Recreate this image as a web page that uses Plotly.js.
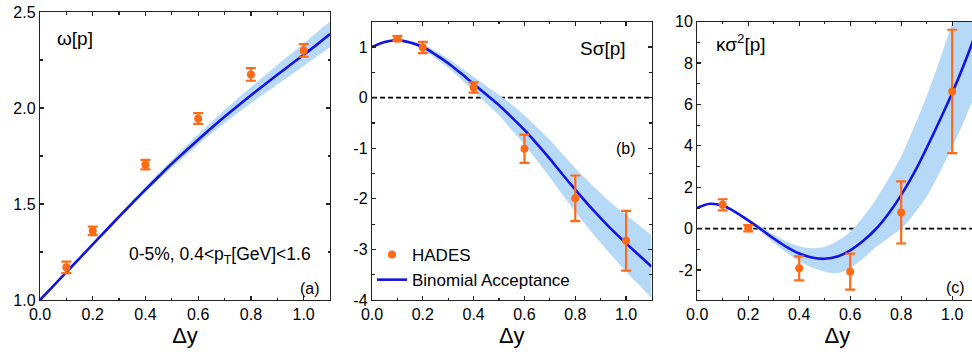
<!DOCTYPE html>
<html>
<head>
<meta charset="utf-8">
<script src="https://cdn.plot.ly/plotly-3.0.1.min.js"></script>
<style>
html, body { margin: 0; padding: 0; overflow: hidden; background: #fff; }
#chart { width: 980px; height: 352px; }
</style>
</head>
<body>
<div id="chart"></div>
<script>
// ---------- data ----------
const dyPoints = [0.1, 0.2, 0.4, 0.6, 0.8, 1.0];

const omegaVal = [1.17, 1.36, 1.705, 1.945, 2.175, 2.30];
const omegaErr = [0.03, 0.022, 0.025, 0.028, 0.033, 0.033];

const skewVal = [1.165, 0.99, 0.20, -1.01, -1.99, -2.83];
const skewErr = [0.05, 0.11, 0.10, 0.28, 0.45, 0.59];

const kurtVal = [1.15, 0.02, -1.92, -2.08, 0.78, 6.63];
const kurtErr = [0.27, 0.15, 0.58, 0.87, 1.5, 2.98];

const dyCurve = [0, 0.05, 0.1, 0.15, 0.2, 0.25, 0.3, 0.35, 0.4, 0.45, 0.5, 0.55,
                 0.6, 0.65, 0.7, 0.75, 0.8, 0.85, 0.9, 0.95, 1.0, 1.05, 1.1];

const omegaCurve = [1.0, 1.072, 1.145, 1.217, 1.29, 1.362, 1.434, 1.505, 1.575, 1.643, 1.71, 1.773,
                    1.835, 1.896, 1.955, 2.011, 2.066, 2.12, 2.173, 2.225, 2.277, 2.33, 2.385];
const omegaLow  = [1.0, 1.072, 1.143, 1.214, 1.285, 1.355, 1.425, 1.493, 1.561, 1.626, 1.690, 1.750,
                   1.810, 1.867, 1.922, 1.974, 2.025, 2.074, 2.123, 2.171, 2.219, 2.268, 2.317];
const omegaHigh = [1.0, 1.072, 1.147, 1.221, 1.296, 1.370, 1.444, 1.518, 1.590, 1.661, 1.731, 1.798,
                   1.862, 1.927, 1.990, 2.050, 2.108, 2.167, 2.224, 2.280, 2.335, 2.393, 2.450];

const skewCurve = [1.0, 1.1, 1.13, 1.09, 1.0, 0.85, 0.68, 0.48, 0.27, 0.06, -0.15, -0.39,
                   -0.64, -0.92, -1.21, -1.52, -1.82, -2.11, -2.38, -2.64, -2.88, -3.11, -3.34];
const skewHigh  = [1.0, 1.11, 1.15, 1.12, 1.05, 0.92, 0.77, 0.59, 0.41, 0.23, 0.05, -0.14,
                   -0.35, -0.59, -0.84, -1.12, -1.39, -1.65, -1.89, -2.12, -2.32, -2.52, -2.72];
const skewLow   = [1.0, 1.09, 1.11, 1.06, 0.95, 0.78, 0.59, 0.37, 0.13, -0.11, -0.35, -0.64,
                   -0.93, -1.25, -1.58, -1.92, -2.25, -2.57, -2.87, -3.16, -3.44, -3.70, -3.96];

const kurtCurve = [1.0, 1.2, 1.1, 0.8, 0.4, -0.03, -0.48, -0.88, -1.2, -1.4, -1.46, -1.35,
                   -1.05, -0.6, -0.03, 0.72, 1.62, 2.68, 3.9, 5.2, 6.55, 8.05, 9.7];
const kurtHigh  = [1.0, 1.22, 1.14, 0.86, 0.48, 0.1, -0.3, -0.62, -0.85, -0.95, -0.88, -0.6,
                   -0.15, 0.55, 1.4, 2.4, 3.5, 4.9, 6.4, 8.1, 9.95, 11.9, 14.0];
const kurtLow   = [1.0, 1.18, 1.06, 0.74, 0.32, -0.16, -0.68, -1.15, -1.58, -1.88, -2.08, -2.15,
                   -1.9, -1.45, -0.9, -0.45, 0.0, 0.7, 1.55, 2.7, 3.95, 5.3, 6.8];

const xTickVals = [0, 0.2, 0.4, 0.6, 0.8, 1.0];
const xTickText = ['0.0', '0.2', '0.4', '0.6', '0.8', '1.0'];
const xMinorVals = [0.1, 0.3, 0.5, 0.7, 0.9, 1.1];

const yaTickVals = [1.0, 1.5, 2.0, 2.5];
const yaTickText = ['1.0', '1.5', '2.0', '2.5'];
const yaMinorVals = [1.25, 1.75, 2.25];

const ybTickVals = [-4, -3, -2, -1, 0, 1];
const ybTickText = ['-4', '-3', '-2', '-1', '0', '1'];
const ybMinorVals = [-3.5, -2.5, -1.5, -0.5, 0.5, 1.5];

const ycTickVals = [-2, 0, 2, 4, 6, 8, 10];
const ycTickText = ['-2', '0', '2', '4', '6', '8', '10'];
const ycMinorVals = [-3, -1, 1, 3, 5, 7, 9];

const panelLabels = ['ω[p]', 'Sσ[p]', 'κσ<sup>2</sup>[p]'];
const cutLabel = '0-5%, 0.4&lt;p<sub>T</sub>[GeV]&lt;1.6';
const letterLabels = ['(a)', '(b)', '(c)'];

// ---------- styles ----------
const FONT = 'Arial, "Liberation Sans", Helvetica, sans-serif';
const ORANGE = '#FF6A17';
const BLUE = '#1212E2';
const BAND = '#B6D9F7';

function bandTraces(low, high, xa, ya) {
  return [
    { x: dyCurve, y: low, xaxis: xa, yaxis: ya, mode: 'lines', line: { width: 0, shape: 'spline' },
      hoverinfo: 'skip', showlegend: false },
    { x: dyCurve, y: high, xaxis: xa, yaxis: ya, mode: 'lines', line: { width: 0, shape: 'spline' },
      fill: 'tonexty', fillcolor: BAND, hoverinfo: 'skip', showlegend: false }
  ];
}
function lineTrace(y, xa, ya, legend) {
  return { x: dyCurve, y: y, xaxis: xa, yaxis: ya, mode: 'lines', name: 'Binomial Acceptance',
           line: { color: BLUE, width: 2.6, shape: 'spline' }, showlegend: legend };
}
function pointTrace(y, err, xa, ya, legend) {
  return { x: dyPoints, y: y, xaxis: xa, yaxis: ya, mode: 'markers', name: 'HADES',
           marker: { color: ORANGE, size: 8 },
           error_y: { type: 'data', array: err, visible: true, color: ORANGE, thickness: 2.2, width: 5 },
           showlegend: legend };
}

const traces = [].concat(
  bandTraces(omegaLow, omegaHigh, 'x', 'y'),
  bandTraces(skewLow, skewHigh, 'x2', 'y2'),
  bandTraces(kurtLow, kurtHigh, 'x3', 'y3'),
  [lineTrace(omegaCurve, 'x', 'y', false),
   lineTrace(skewCurve, 'x2', 'y2', true),
   lineTrace(kurtCurve, 'x3', 'y3', false),
   pointTrace(omegaVal, omegaErr, 'x', 'y', false),
   pointTrace(skewVal, skewErr, 'x2', 'y2', true),
   pointTrace(kurtVal, kurtErr, 'x3', 'y3', false)]
);

const W = 980, H = 352, MT = 12, MB = 52;
const px = v => v / W;
const py = v => (H - MB - v) / (H - MT - MB);

function axisBase() {
  return {
    showgrid: false, zeroline: false, showline: true, linecolor: '#222', linewidth: 1.2,
    mirror: 'ticks', ticks: 'inside', ticklen: 4, tickwidth: 1.2, tickcolor: '#222',
    tickfont: { family: FONT, size: 16, color: '#000' }, tickmode: 'array', fixedrange: true
  };
}
function xAxis(domain, anchor) {
  return Object.assign(axisBase(), {
    domain: domain, anchor: anchor, range: [0, 1.1], tickvals: xTickVals, ticktext: xTickText,
    minor: { tickmode: 'array', tickvals: xMinorVals, ticks: 'inside', ticklen: 2.5, tickwidth: 1.2, tickcolor: '#222' },
    title: { text: 'Δy', font: { family: FONT, size: 22, color: '#000' }, standoff: 4 }
  });
}
function yAxis(domain, anchor, range, tv, tt, mv) {
  return Object.assign(axisBase(), {
    domain: domain, anchor: anchor, range: range, tickvals: tv, ticktext: tt,
    minor: { tickmode: 'array', tickvals: mv, ticks: 'inside', ticklen: 2.5, tickwidth: 1.2, tickcolor: '#222' }
  });
}

const topBC = py(21.7);

const annFont = s => ({ family: FONT, size: s, color: '#000' });
const layout = {
  width: W, height: H,
  margin: { l: 0, r: 0, t: MT, b: MB },
  paper_bgcolor: '#fff', plot_bgcolor: '#fff',
  font: { family: FONT },
  xaxis: xAxis([px(40), px(330)], 'y'),
  yaxis: yAxis([0, 1], 'x', [1, 2.5], yaTickVals, yaTickText, yaMinorVals),
  xaxis2: xAxis([px(372), px(651.5)], 'y2'),
  yaxis2: yAxis([0, topBC], 'x2', [-4, 1.5], ybTickVals, ybTickText, ybMinorVals),
  xaxis3: xAxis([px(697.2), px(977.7)], 'y3'),
  yaxis3: yAxis([0, topBC], 'x3', [-3.45, 10], ycTickVals, ycTickText, ycMinorVals),
  showlegend: true,
  legend: {
    x: px(372), y: py(237), xanchor: 'left', yanchor: 'top', bgcolor: 'rgba(0,0,0,0)',
    font: { family: FONT, size: 17, color: '#000' }, itemwidth: 30, tracegroupgap: 0,
    traceorder: 'reversed'
  },
  shapes: [
    { type: 'line', xref: 'x2 domain', yref: 'y2', x0: 0, x1: 1, y0: 0, y1: 0,
      line: { color: '#000', width: 1.6, dash: '5px,3px' }, layer: 'below' },
    { type: 'line', xref: 'x3 domain', yref: 'y3', x0: 0, x1: 1, y0: 0, y1: 0,
      line: { color: '#000', width: 1.6, dash: '5px,3px' }, layer: 'below' }
  ],
  annotations: [
    { text: panelLabels[0], xref: 'paper', yref: 'paper', x: px(55), y: py(38), xanchor: 'left', yanchor: 'middle', showarrow: false, font: annFont(19) },
    { text: panelLabels[1], xref: 'paper', yref: 'paper', x: px(628), y: py(48), xanchor: 'right', yanchor: 'middle', showarrow: false, font: annFont(19) },
    { text: panelLabels[2], xref: 'paper', yref: 'paper', x: px(714), y: py(43), xanchor: 'left', yanchor: 'middle', showarrow: false, font: annFont(19) },
    { text: cutLabel, xref: 'paper', yref: 'paper', x: px(127), y: py(255), xanchor: 'left', yanchor: 'middle', showarrow: false, font: annFont(17.5) },
    { text: letterLabels[0], xref: 'paper', yref: 'paper', x: px(322), y: py(288), xanchor: 'right', yanchor: 'middle', showarrow: false, font: annFont(16) },
    { text: letterLabels[1], xref: 'paper', yref: 'paper', x: px(638), y: py(148), xanchor: 'right', yanchor: 'middle', showarrow: false, font: annFont(16) },
    { text: letterLabels[2], xref: 'paper', yref: 'paper', x: px(967), y: py(287), xanchor: 'right', yanchor: 'middle', showarrow: false, font: annFont(16) }
  ]
};

Plotly.newPlot('chart', traces, layout, { displayModeBar: false, staticPlot: true });
</script>
</body>
</html>
